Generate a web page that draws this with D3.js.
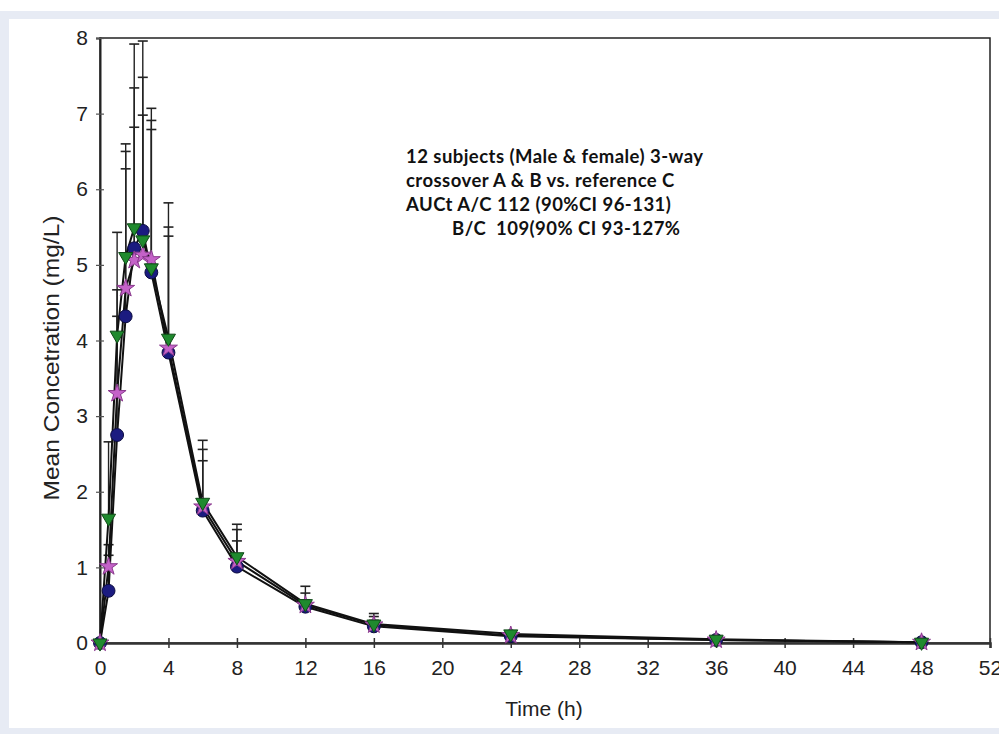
<!DOCTYPE html>
<html>
<head>
<meta charset="utf-8">
<script src="https://cdn.jsdelivr.net/npm/d3@7"></script>
<style>
  body { margin: 0; background: #fff; }
  svg text { font-family: "Liberation Sans", Arial, sans-serif; fill: #222; }
  .note { font-family: Lato, "Open Sans", sans-serif; font-weight: bold; font-size: 18.5px; letter-spacing: 0.45px; fill: #111; white-space: pre; }
</style>
</head>
<body>
<svg id="chart" width="999" height="734"></svg>
<script>
// sampling times (h)
var times = [0, 0.5, 1, 1.5, 2, 2.5, 3, 4, 6, 8, 12, 16, 24, 36, 48];

// mean concentrations (mg/L)
var meanA = [0, 0.69, 2.75, 4.32, 5.22, 5.45, 4.90, 3.84, 1.75, 1.01, 0.48, 0.22, 0.09, 0.04, 0.01];
var meanB = [0, 1.01, 3.30, 4.69, 5.06, 5.13, 5.07, 3.90, 1.80, 1.08, 0.50, 0.24, 0.10, 0.04, 0.01];
var meanC = [0, 1.65, 4.07, 5.11, 5.49, 5.33, 4.96, 4.03, 1.86, 1.14, 0.52, 0.25, 0.12, 0.05, 0.01];

// top of upper error bar (mean + SD)
var upperA = [0, 1.16, 4.32, 6.50, 7.92, 7.96, 7.07, 5.82, 2.68, 1.50, 0.66, 0.35, 0.14, 0.05, 0.01];
var upperB = [0, 1.30, 4.67, 6.27, 6.82, 6.98, 6.79, 5.38, 2.41, 1.35, 0.57, 0.30, 0.13, 0.05, 0.01];
var upperC = [0, 2.66, 5.43, 6.60, 7.34, 7.48, 6.91, 5.50, 2.56, 1.57, 0.75, 0.39, 0.16, 0.06, 0.02];

var xTicks = [0, 4, 8, 12, 16, 20, 24, 28, 32, 36, 40, 44, 48, 52];
var yTicks = [0, 1, 2, 3, 4, 5, 6, 7, 8];

var noteLines = [
	'12 subjects (Male & female) 3-way',
	'crossover A & B vs. reference C',
	'AUCt A/C 112 (90%CI 96-131)',
	'B/C  109(90% CI 93-127%'
];
var noteIndent = [0, 0, 0, 46];

var svg = d3.select('#chart');

// background panel
svg.append('rect').attr('x', 0).attr('y', 11).attr('width', 999).attr('height', 723).attr('fill', '#e7ebf4');
svg.append('rect').attr('x', 9).attr('y', 19).attr('width', 990).attr('height', 709).attr('fill', '#fff');

var x = d3.scaleLinear().domain([0, 52]).range([100, 990]);
var y = d3.scaleLinear().domain([0, 8]).range([643, 38]);

// plot frame
svg.append('rect')
	.attr('x', x(0)).attr('y', y(8))
	.attr('width', x(52) - x(0)).attr('height', y(0) - y(8))
	.attr('fill', 'none').attr('stroke', '#222').attr('stroke-width', 1.5);

// axes
var gx = svg.append('g').attr('transform', 'translate(0,' + y(0) + ')')
	.call(d3.axisBottom(x).tickValues(xTicks).tickSize(5).tickPadding(12));
gx.selectAll('.tick line').attr('y1', -5).attr('y2', 5);
gx.select('.domain').attr('stroke-width', 2.5).attr('stroke', '#333');
gx.selectAll('.tick line').attr('stroke', '#333').attr('stroke-width', 1.5);
gx.selectAll('text').attr('font-size', 21).attr('font-family', '"Liberation Sans", Arial, sans-serif').attr('fill', '#222');

var gy = svg.append('g').attr('transform', 'translate(' + x(0) + ',0)')
	.call(d3.axisLeft(y).tickValues(yTicks).tickSize(4).tickPadding(8));
gy.selectAll('.tick line').attr('x1', -4).attr('x2', 4).attr('stroke', '#555').attr('stroke-width', 1.2);
gy.select('.domain').attr('stroke-width', 2).attr('stroke', '#222');
gy.selectAll('text').attr('font-size', 21).attr('font-family', '"Liberation Sans", Arial, sans-serif').attr('fill', '#222');

// axis titles
svg.append('text')
	.attr('x', (x(0) + x(52)) / 2 - 1).attr('y', 716)
	.attr('text-anchor', 'middle').attr('font-size', 21)
	.text('Time (h)');

svg.append('text')
	.attr('transform', 'translate(59,' + 358 + ') rotate(-90)')
	.attr('text-anchor', 'middle').attr('font-size', 22)
	.attr('textLength', 285).attr('lengthAdjust', 'spacingAndGlyphs')
	.text('Mean Concetration (mg/L)');

var series = [
	{ mean: meanA, upper: upperA, color: '#1b1b80', stroke: '#0b0b40', shape: 'circle' },
	{ mean: meanB, upper: upperB, color: '#c462c8', stroke: '#8a3a8e', shape: 'star' },
	{ mean: meanC, upper: upperC, color: '#1f8a2e', stroke: '#0e4a16', shape: 'triangle' }
];

// error bars (upper only)
series.forEach(function (s) {
	var g = svg.append('g');
	times.forEach(function (t, i) {
		if (s.upper[i] - s.mean[i] <= 0.005) return;
		g.append('line')
			.attr('x1', x(t)).attr('x2', x(t))
			.attr('y1', y(s.mean[i])).attr('y2', y(s.upper[i]))
			.attr('stroke', '#222').attr('stroke-width', 1.4);
		g.append('line')
			.attr('x1', x(t) - 5).attr('x2', x(t) + 5)
			.attr('y1', y(s.upper[i])).attr('y2', y(s.upper[i]))
			.attr('stroke', '#222').attr('stroke-width', 1.6);
	});
});

// connecting lines
var line = d3.line()
	.x(function (d, i) { return x(times[i]); })
	.y(function (d) { return y(d); });

series.forEach(function (s) {
	svg.append('path')
		.attr('d', line(s.mean))
		.attr('fill', 'none')
		.attr('stroke', '#111')
		.attr('stroke-width', 2);
});

// markers
var shapes = {
	circle: d3.symbol().type(d3.symbolCircle).size(130),
	star: d3.symbol().type(d3.symbolStar).size(100),
	triangle: d3.symbol().type(d3.symbolTriangle).size(85)
};

series.forEach(function (s) {
	svg.append('g').selectAll('path')
		.data(s.mean)
		.enter().append('path')
		.attr('d', shapes[s.shape])
		.attr('transform', function (d, i) {
			return 'translate(' + x(times[i]) + ',' + y(d) + ')' + (s.shape == 'triangle' ? ' rotate(180)' : '');
		})
		.attr('fill', s.color)
		.attr('stroke', s.stroke)
		.attr('stroke-width', 1);
});

// annotation
var note = svg.append('text').attr('class', 'note').attr('x', 406).attr('y', 163);
note.selectAll('tspan')
	.data(noteLines)
	.enter().append('tspan')
	.attr('x', function (d, i) { return 406 + noteIndent[i]; })
	.attr('dy', function (d, i) { return i == 0 ? 0 : 24; })
	.text(function (d) { return d; });
</script>
</body>
</html>
